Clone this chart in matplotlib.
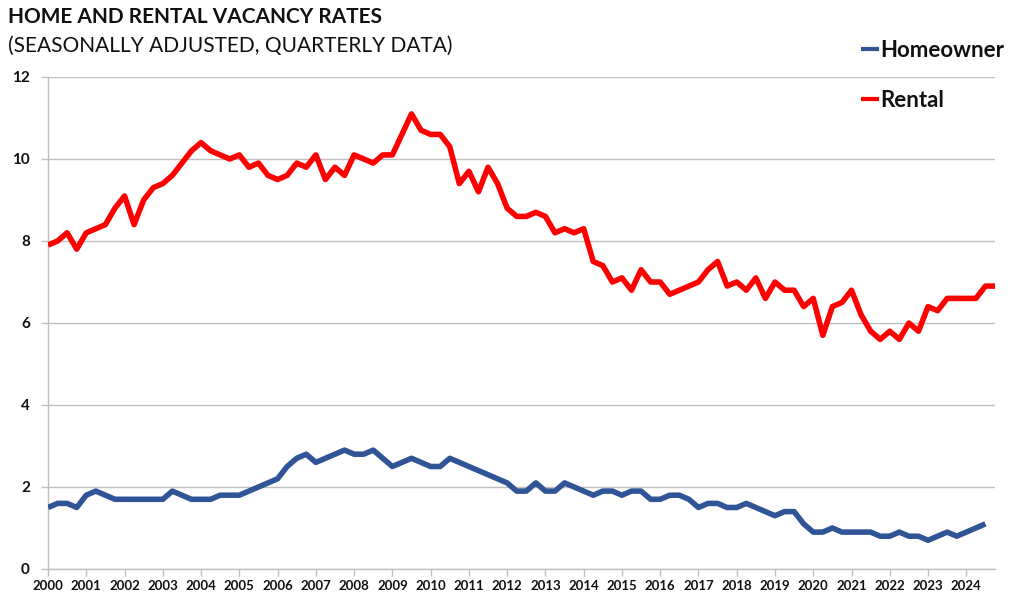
import numpy as np
import matplotlib
matplotlib.use('Agg')
import matplotlib.pyplot as plt

# font close to the Excel-ish look
plt.rcParams['font.family'] = ['Lato', 'DejaVu Sans']

# quarterly data, 2000 Q1 onwards
start_year = 2000
homeowner = [
    1.5, 1.6, 1.6, 1.5,  # 2000
    1.8, 1.9, 1.8, 1.7,  # 2001
    1.7, 1.7, 1.7, 1.7,  # 2002
    1.7, 1.9, 1.8, 1.7,  # 2003
    1.7, 1.7, 1.8, 1.8,  # 2004
    1.8, 1.9, 2.0, 2.1,  # 2005
    2.2, 2.5, 2.7, 2.8,  # 2006
    2.6, 2.7, 2.8, 2.9,  # 2007
    2.8, 2.8, 2.9, 2.7,  # 2008
    2.5, 2.6, 2.7, 2.6,  # 2009
    2.5, 2.5, 2.7, 2.6,  # 2010
    2.5, 2.4, 2.3, 2.2,  # 2011
    2.1, 1.9, 1.9, 2.1,  # 2012
    1.9, 1.9, 2.1, 2.0,  # 2013
    1.9, 1.8, 1.9, 1.9,  # 2014
    1.8, 1.9, 1.9, 1.7,  # 2015
    1.7, 1.8, 1.8, 1.7,  # 2016
    1.5, 1.6, 1.6, 1.5,  # 2017
    1.5, 1.6, 1.5, 1.4,  # 2018
    1.3, 1.4, 1.4, 1.1,  # 2019
    0.9, 0.9, 1.0, 0.9,  # 2020
    0.9, 0.9, 0.9, 0.8,  # 2021
    0.8, 0.9, 0.8, 0.8,  # 2022
    0.7, 0.8, 0.9, 0.8,  # 2023
    0.9, 1.0, 1.1,       # 2024
]
rental = [
    7.9, 8.0, 8.2, 7.8,     # 2000
    8.2, 8.3, 8.4, 8.8,     # 2001
    9.1, 8.4, 9.0, 9.3,     # 2002
    9.4, 9.6, 9.9, 10.2,    # 2003
    10.4, 10.2, 10.1, 10.0, # 2004
    10.1, 9.8, 9.9, 9.6,    # 2005
    9.5, 9.6, 9.9, 9.8,     # 2006
    10.1, 9.5, 9.8, 9.6,    # 2007
    10.1, 10.0, 9.9, 10.1,  # 2008
    10.1, 10.6, 11.1, 10.7, # 2009
    10.6, 10.6, 10.3, 9.4,  # 2010
    9.7, 9.2, 9.8, 9.4,     # 2011
    8.8, 8.6, 8.6, 8.7,     # 2012
    8.6, 8.2, 8.3, 8.2,     # 2013
    8.3, 7.5, 7.4, 7.0,     # 2014
    7.1, 6.8, 7.3, 7.0,     # 2015
    7.0, 6.7, 6.8, 6.9,     # 2016
    7.0, 7.3, 7.5, 6.9,     # 2017
    7.0, 6.8, 7.1, 6.6,     # 2018
    7.0, 6.8, 6.8, 6.4,     # 2019
    6.6, 5.7, 6.4, 6.5,     # 2020
    6.8, 6.2, 5.8, 5.6,     # 2021
    5.8, 5.6, 6.0, 5.8,     # 2022
    6.4, 6.3, 6.6, 6.6,     # 2023
    6.6, 6.6, 6.9, 6.9,     # 2024
]
year_ticks = list(range(2000, 2025))
y_ticks = [0, 2, 4, 6, 8, 10, 12]

# time axis (quarters as fractional years)
t_home = start_year + np.arange(len(homeowner)) / 4
t_rent = start_year + np.arange(len(rental)) / 4

fig = plt.figure(figsize=(10.24, 6.14), dpi=100)
ax = fig.add_axes([48/1024, 45/614, (995-48)/1024, (569-77)/614])

grid_col = '#BFBFBF'
ax.plot(t_home, homeowner, color='#2F5597', lw=4, solid_joinstyle='round',
        solid_capstyle='butt', label='Homeowner', zorder=3)
ax.plot(t_rent, rental, color='#FF0000', lw=4, solid_joinstyle='round',
        solid_capstyle='butt', label='Rental', zorder=3)

ax.set_xlim(2000, 2024.75)
ax.set_ylim(0, 12)
ax.set_xticks(year_ticks)
ax.set_yticks(y_ticks)
ax.set_yticklabels([str(v) for v in y_ticks], fontsize=11, fontweight='bold', color='#111111')
ax.set_xticklabels([str(v) for v in year_ticks], fontsize=9.5, fontweight='bold', color='#111111')
ax.tick_params(axis='both', direction='out', length=5, width=1, color=grid_col)
ax.tick_params(axis='y', pad=8)
ax.tick_params(axis='x', pad=3)

# grid and spines
ax.grid(axis='y', color=grid_col, lw=1)
ax.set_axisbelow(True)
for s in ['top', 'right']:
    ax.spines[s].set_visible(False)
for s in ['left', 'bottom']:
    ax.spines[s].set_color(grid_col)
    ax.spines[s].set_linewidth(1)

# legend top right
leg = ax.legend(loc='upper left', bbox_to_anchor=(841/1024, 1-20/614),
                bbox_transform=fig.transFigure, frameon=False,
                handlelength=0.8, handletextpad=0.05, labelspacing=1.3,
                prop={'size': 16, 'weight': 'bold'})
for h in leg.legend_handles:
    h.set_linewidth(3)
for txt in leg.get_texts():
    txt.set_color('#111111')

# titles
fig.text(8/1024, 1-17/614, 'HOME AND RENTAL VACANCY RATES', fontsize=15,
         fontweight='bold', va='center', ha='left', color='#111111')
fig.text(8/1024, 1-46/614, '(SEASONALLY ADJUSTED, QUARTERLY DATA)', fontsize=15,
         va='center', ha='left', color='#111111')

fig.savefig('out.png', dpi=100)
